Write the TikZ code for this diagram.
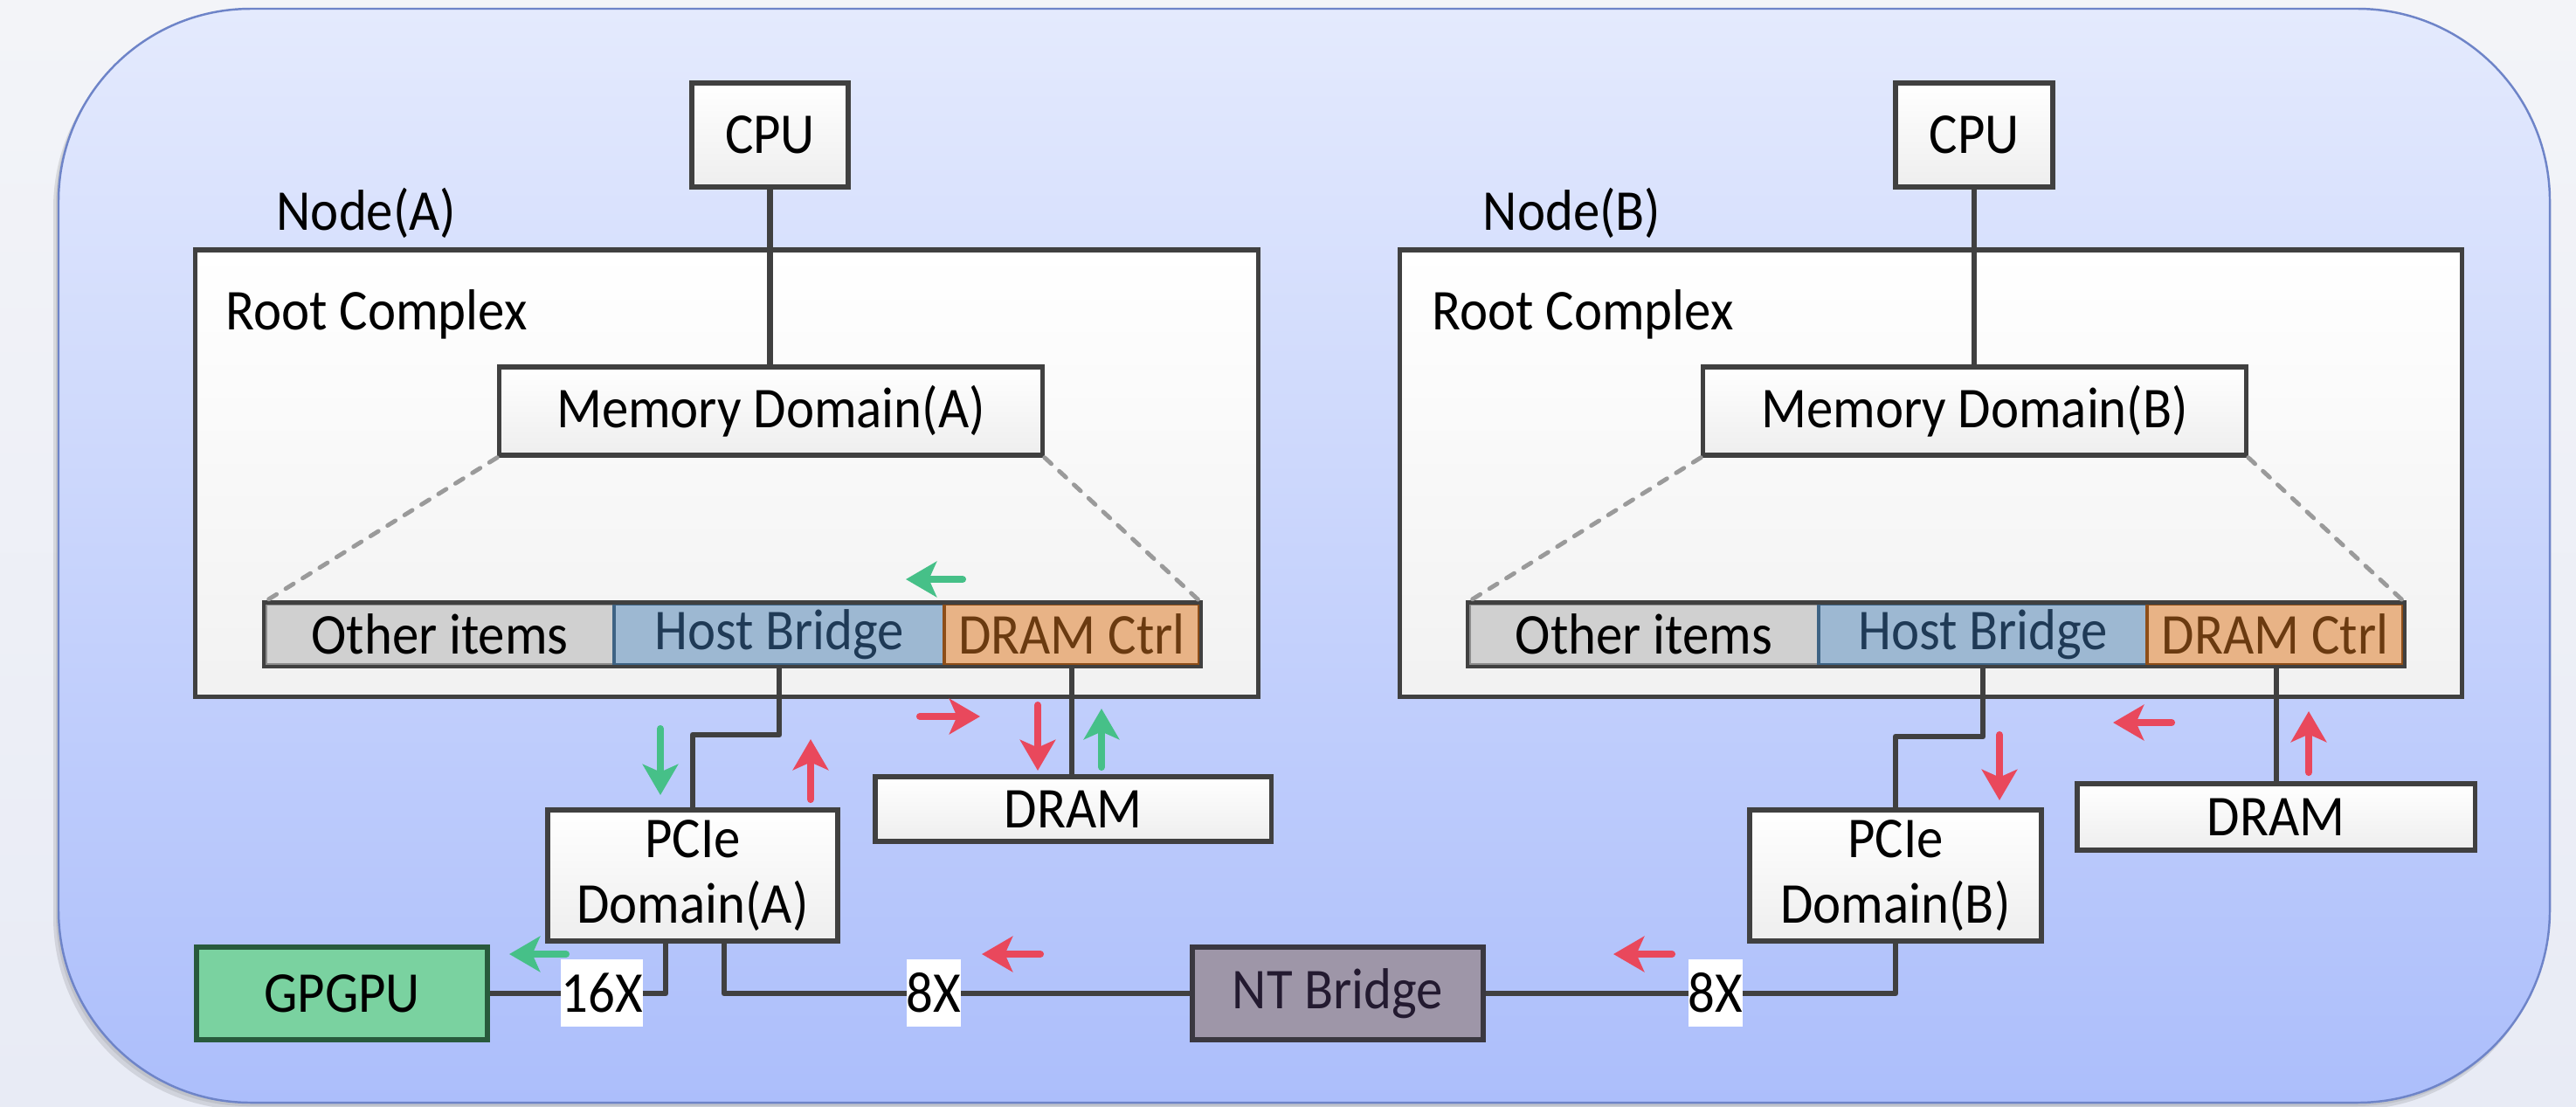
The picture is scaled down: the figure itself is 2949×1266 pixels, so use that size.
\documentclass[tikz,border=0pt]{standalone}
\usepackage{fontspec}
\setmainfont{Carlito}[FakeStretch=0.92]
\usetikzlibrary{arrows.meta,calc}
\definecolor{bgtop}{RGB}{243,244,248}
\definecolor{bgbot}{RGB}{232,235,245}
\definecolor{outtop}{RGB}{228,234,253}
\definecolor{outbot}{RGB}{172,190,251}
\definecolor{outline}{RGB}{110,132,200}
\definecolor{dk}{RGB}{64,64,64}
\definecolor{boxbot}{RGB}{238,238,238}
\definecolor{othfill}{RGB}{208,208,208}
\definecolor{othdraw}{RGB}{140,140,140}
\definecolor{hbfill}{RGB}{157,184,210}
\definecolor{hbdraw}{RGB}{62,99,132}
\definecolor{hbtext}{RGB}{31,58,86}
\definecolor{dcfill}{RGB}{232,179,134}
\definecolor{dcdraw}{RGB}{142,78,24}
\definecolor{dctext}{RGB}{106,58,16}
\definecolor{gpfill}{RGB}{122,210,160}
\definecolor{gpdraw}{RGB}{40,90,60}
\definecolor{ntfill}{RGB}{158,150,168}
\definecolor{ntdraw}{RGB}{58,56,64}
\definecolor{nttext}{RGB}{35,26,48}
\definecolor{dotgray}{RGB}{154,154,154}
\definecolor{redarr}{RGB}{233,72,92}
\definecolor{grnarr}{RGB}{70,192,136}
\newcommand\diagfont{\fontsize{18.8}{21.3}\selectfont}
\begin{document}
\begin{tikzpicture}[x=0.01cm,y=-0.01cm,
  every node/.style={inner sep=0pt, font=\diagfont},
  box/.style={draw=dk, line width=1.5pt, top color=white, bottom color=boxbot},
  rcbox/.style={draw=dk, line width=1.5pt, top color=white, bottom color=boxbot!80!white},
  othcell/.style={draw=othdraw, line width=1pt, fill=othfill, minimum height=0.70cm},
  hbcell/.style={draw=hbdraw, line width=1pt, fill=hbfill, text=hbtext, minimum height=0.70cm},
  dccell/.style={draw=dcdraw, line width=1pt, fill=dcfill, text=dctext, minimum height=0.70cm},
  barframe/.style={draw=dk, line width=1.3pt},
  wire/.style={draw=dk, line width=1.9pt, line join=round},
  dotline/.style={draw=dotgray, line width=1.4pt, dash pattern=on 3pt off 3.5pt, line cap=round},
  lbl/.style={fill=white, minimum height=0.77cm},
  flow/.style={line width=2.3pt, line cap=round, -{Stealth[length=10pt,width=11.5pt,inset=2.5pt]}},
  redflow/.style={flow, draw=redarr, fill=redarr},
  grnflow/.style={flow, draw=grnarr, fill=grnarr}
]
\useasboundingbox (0,0) rectangle (2949,1266);
% background
\shade[top color=bgtop, bottom color=bgbot] (0,0) rectangle (2949,1266);
% outer rounded panel with soft shadow
\fill[black, opacity=0.10, rounded corners=2.2cm] (61,18) rectangle (2915,1270);
\fill[black, opacity=0.08, rounded corners=2.2cm] (64,14) rectangle (2917,1266);
\shade[top color=outtop, bottom color=outbot, rounded corners=2.2cm, draw=outline, line width=0.7pt] (67,10) rectangle (2919,1262);

% ---------- Node A ----------
\node[anchor=base west] (nodeAlbl) at (316,263) {Node(A)};
\node[rcbox, minimum width=12.16cm, minimum height=5.11cm] (RCA) at (832,541.5) {};
\node[anchor=base west] (rcAlbl) at (258,377) {Root Complex};
\node[box, minimum width=1.79cm, minimum height=1.19cm] (CPUA) at (881.5,154.5) {CPU};
\node[box, minimum width=6.21cm, minimum height=1.01cm] (MemA) at (882.5,470.5) {Memory Domain(A)};
\node[othcell, minimum width=3.99cm] (OthA) at (503.5,726) {Other items};
\node[hbcell, minimum width=3.78cm] (HostA) at (892,726) {Host Bridge};
\node[dccell, minimum width=2.92cm] (DcA) at (1227,726) {DRAM Ctrl};
\draw[barframe] (OthA.north west) rectangle (DcA.south east);
\node[box, minimum width=4.53cm, minimum height=0.74cm] (DRAMA) at (1228.5,926) {DRAM};
\node[box, minimum width=3.32cm, minimum height=1.50cm, align=center] (PCIeA) at (793,1002) {PCIe\\Domain(A)};
\node[draw=gpdraw, line width=1.5pt, fill=gpfill, minimum width=3.33cm, minimum height=1.06cm] (GPU) at (391.5,1137) {GPGPU};

% ---------- Node B ----------
\node[anchor=base west] (nodeBlbl) at (1697,263) {Node(B)};
\node[rcbox, minimum width=12.15cm, minimum height=5.11cm] (RCB) at (2210.5,541.5) {};
\node[anchor=base west] (rcBlbl) at (1639,377) {Root Complex};
\node[box, minimum width=1.80cm, minimum height=1.19cm] (CPUB) at (2260,154.5) {CPU};
\node[box, minimum width=6.21cm, minimum height=1.01cm] (MemB) at (2260.5,470.5) {Memory Domain(B)};
\node[othcell, minimum width=4.00cm] (OthB) at (1882,726) {Other items};
\node[hbcell, minimum width=3.76cm] (HostB) at (2270,726) {Host Bridge};
\node[dccell, minimum width=2.93cm] (DcB) at (2604.5,726) {DRAM Ctrl};
\draw[barframe] (OthB.north west) rectangle (DcB.south east);
\node[box, minimum width=4.55cm, minimum height=0.76cm] (DRAMB) at (2605.5,935) {DRAM};
\node[box, minimum width=3.34cm, minimum height=1.50cm, align=center] (PCIeB) at (2170,1002) {PCIe\\Domain(B)};

\node[draw=ntdraw, line width=1.5pt, fill=ntfill, text=nttext, minimum width=3.33cm, minimum height=1.06cm] (NT) at (1531.5,1137) {NT Bridge};

% ---------- wires ----------
\coordinate (jogA) at (0,841);
\coordinate (jogB) at (0,843);
\draw[wire] (CPUA.south) -- (CPUA.south |- MemA.north);
\draw[wire] (CPUB.south) -- (CPUB.south |- MemB.north);
\draw[wire] (HostA.south) |- (PCIeA.north |- jogA) -- (PCIeA.north);
\draw[wire] (HostB.south) |- (PCIeB.north |- jogB) -- (PCIeB.north);
\draw[wire] (DcA.south) -- (DcA.south |- DRAMA.north);
\draw[wire] ($(DcB.south)+(1.5,0)$) -- ($(DcB.south |- DRAMB.north)+(1.5,0)$);
\draw[wire] ($(PCIeA.south)+(-31,0)$) |- (GPU.east);
\draw[wire] ($(PCIeA.south)+(36,0)$) |- (NT.west);
\draw[wire] (PCIeB.south) |- (NT.east);
\draw[dotline] (MemA.south west) -- (OthA.north west);
\draw[dotline] (MemA.south east) -- (DcA.north east);
\draw[dotline] (MemB.south west) -- (OthB.north west);
\draw[dotline] (MemB.south east) -- (DcB.north east);

% link-width labels
\node[lbl, minimum width=0.92cm] (x16) at (689,1136.5) {16X};
\node[lbl, minimum width=0.62cm] (x8A) at (1069,1136.5) {8X};
\node[lbl, minimum width=0.62cm] (x8B) at (1964,1136.5) {8X};

% ---------- flow arrows ----------
\draw[grnflow] (1102,663) -- (1037,663);
\draw[grnflow] (756,834) -- (756,910);
\draw[redflow] (928,915) -- (928,846);
\draw[redflow] (1053,820) -- (1122,820);
\draw[redflow] (1188,807) -- (1188,882);
\draw[grnflow] (1261,878) -- (1261,811);
\draw[grnflow] (648,1092) -- (583,1092);
\draw[redflow] (1191,1092) -- (1124,1092);
\draw[redflow] (1914,1092) -- (1847,1092);
\draw[redflow] (2289,841) -- (2289,916);
\draw[redflow] (2486,827) -- (2419,827);
\draw[redflow] (2643,884) -- (2643,814);
\end{tikzpicture}
\end{document}
